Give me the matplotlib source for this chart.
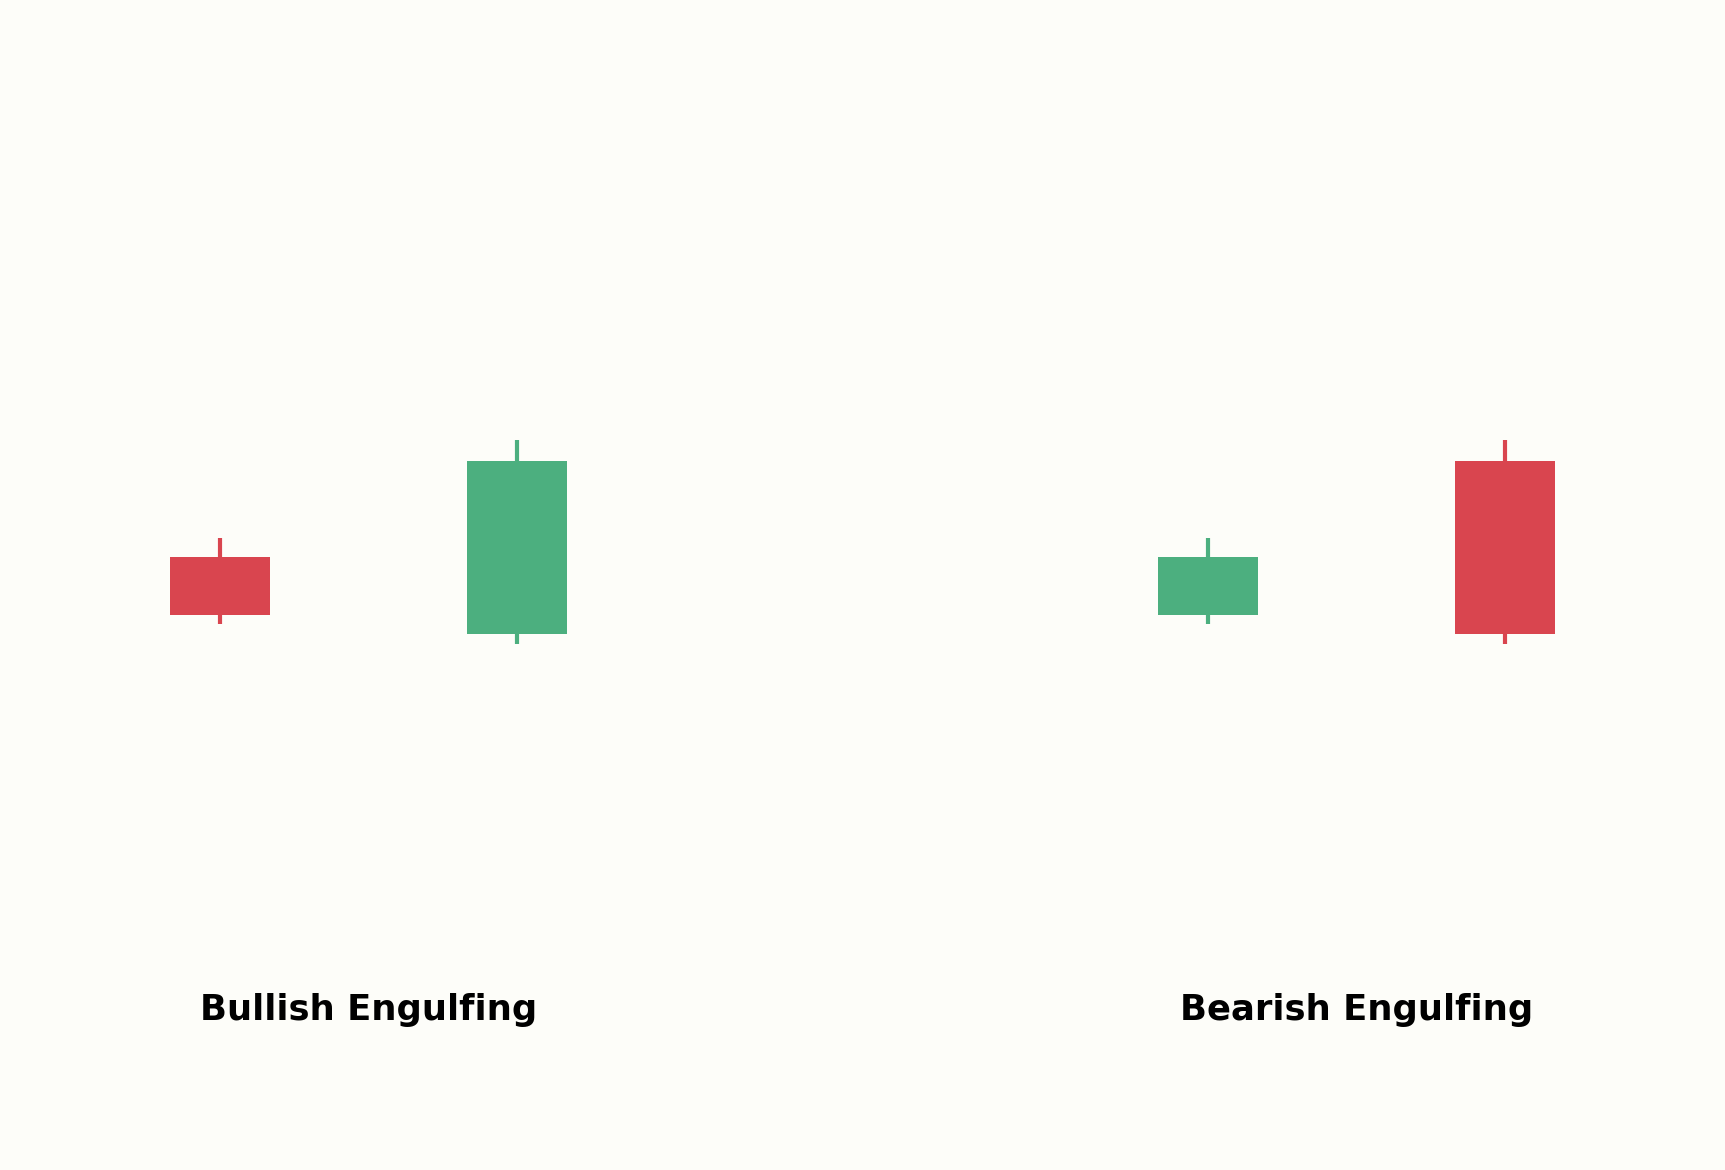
import matplotlib
matplotlib.use("Agg")
import matplotlib.pyplot as plt

# Data
patterns = ["Bullish Engulfing", "Bearish Engulfing"]
opens = [[101, 97], [98, 106]]
closes = [[98, 106], [101, 97]]
highs = [[102, 107.1], [102, 107.1]]
lows = [[97.5, 96.5], [97.5, 96.5]]

UP = "#4caf7f"
DOWN = "#d9454f"
BG = "#fdfdf9"

fig = plt.figure(figsize=(11.5, 7.8), dpi=150, facecolor=BG)

ax_lefts = [71.5 / 1725, 1059.5 / 1725]
ax_w = 594 / 1725
ax_b = 1 - 864.4 / 1170
ax_h = 576 / 1170

for i, name in enumerate(patterns):
    ax = fig.add_axes([ax_lefts[i], ax_b, ax_w, ax_h])
    ax.set_facecolor(BG)
    for j in range(2):
        o, c, h, l = opens[i][j], closes[i][j], highs[i][j], lows[i][j]
        col = UP if c >= o else DOWN
        ax.vlines(j, l, h, color=col, linewidth=2, zorder=1)
        ax.bar(j, abs(c - o), bottom=min(o, c), width=0.34, color=col,
               edgecolor="none", zorder=2)
    ax.set_xlim(-0.5, 1.5)
    ax.set_ylim(85, 115)
    ax.axis("off")
    ax.text(0.5, -0.253, name, transform=ax.transAxes, ha="center", va="center",
            fontsize=17, fontweight="bold", color="black")

fig.savefig("out.png", dpi=150, facecolor=BG)
